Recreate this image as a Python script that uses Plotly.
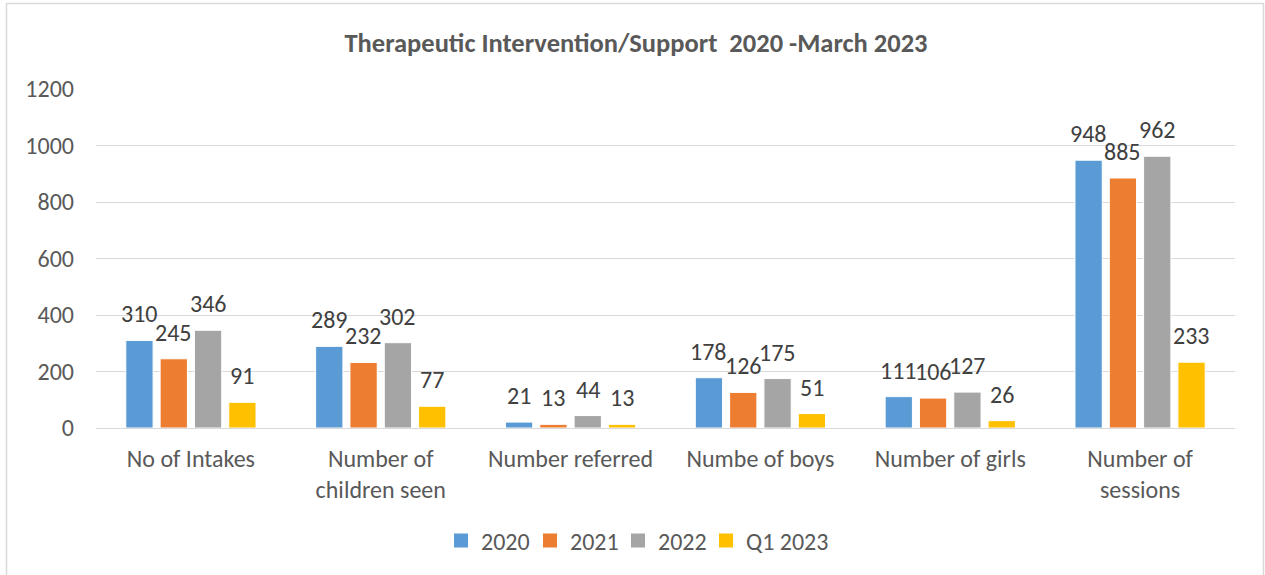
import plotly.graph_objects as go

categories = ["No of Intakes", "Number of<br>children seen", "Number referred",
              "Numbe of boys", "Number of girls", "Number of<br>sessions"]
series_names = ["2020", "2021", "2022", "Q1 2023"]
v2020 = [310, 289, 21, 178, 111, 948]
v2021 = [245, 232, 13, 126, 106, 885]
v2022 = [346, 302, 44, 175, 127, 962]
vq1_2023 = [91, 77, 13, 51, 26, 233]
colors = ["#5B9BD5", "#ED7D31", "#A5A5A5", "#FFC000"]
y_ticks = [0, 200, 400, 600, 800, 1000, 1200]

FONT = "Carlito, Calibri, Lato, sans-serif"
W, H = 1265, 575
ML, MR, MT, MB = 96, 30, 89, 147
PW = W - ML - MR
PH = H - MT - MB

BARGAP = 0.277
GROUPGAP = 0.205
slot_px = PW / len(categories) * (1 - BARGAP) / len(series_names)

# legend entry left edges (pixels) and vertical centre
legend_left_px = [441, 530, 618, 706]
legend_y_px = 541

fig = go.Figure()
all_vals = [v2020, v2021, v2022, vq1_2023]
for name, vals, col in zip(series_names, all_vals, colors):
    fig.add_trace(go.Bar(
        x=categories, y=vals, name=name, showlegend=False,
        marker=dict(color=col, line=dict(color="white", width=1)),
        hoverinfo="x+y+name",
    ))
# legend entries (square swatches), one legend box per entry
legend_ids = ["legend", "legend2", "legend3", "legend4"]
for name, col, lid in zip(series_names, colors, legend_ids):
    fig.add_trace(go.Scatter(
        x=[None], y=[None], mode="markers", name=name, legend=lid,
        marker=dict(symbol="square", size=14, color=col, line=dict(width=0)),
    ))

# data labels (outside end, Excel style)
annotations = []
for i, vals in enumerate(all_vals):
    shift = (i - (len(series_names) - 1) / 2) * slot_px
    for cat, v in zip(categories, vals):
        annotations.append(dict(
            x=cat, y=v, xref="x", yref="y", text=str(v), showarrow=False,
            xanchor="center", yanchor="bottom", xshift=shift, yshift=10,
            font=dict(family=FONT, size=24, color="#404040"),
        ))
# clipped heading above the chart frame (only its descender is visible)
annotations.append(dict(
    x=(862 - ML) / PW, y=(MT + PH - 6.5) / PH, xref="paper", yref="paper",
    text="<b>y</b>", showarrow=False, xanchor="center", yanchor="bottom",
    font=dict(family=FONT, size=28, color="#000000"),
))

legend_layouts = {}
for lid, left in zip(legend_ids, legend_left_px):
    legend_layouts[lid] = dict(
        orientation="h", x=(left - ML) / PW, xanchor="left",
        y=(MT + PH - legend_y_px) / PH, yanchor="middle",
        font=dict(family=FONT, size=24, color="#595959"),
        itemwidth=30, bgcolor="rgba(0,0,0,0)", borderwidth=0,
    )

fig.update_layout(
    width=W, height=H,
    margin=dict(l=ML, r=MR, t=MT, b=MB),
    paper_bgcolor="white", plot_bgcolor="white",
    barmode="group", bargap=BARGAP, bargroupgap=GROUPGAP,
    font=dict(family=FONT, color="#595959"),
    title=dict(text="<b>Therapeutic Intervention/Support  2020 -March 2023</b>",
               x=636 / W, xanchor="center", y=1 - 43 / H, yanchor="middle",
               font=dict(family=FONT, size=26.5, color="#595959")),
    xaxis=dict(showgrid=False, showline=True, linecolor="#D9D9D9", linewidth=1,
               tickfont=dict(family=FONT, size=24, color="#595959"), ticks="",
               ticklabelstandoff=9),
    yaxis=dict(range=[0, 1200], tickvals=y_ticks, showgrid=True, gridcolor="#D9D9D9",
               gridwidth=1, zeroline=False, showline=False, ticks="",
               tickfont=dict(family=FONT, size=24, color="#595959"), ticklabelstandoff=21),
    annotations=annotations,
    showlegend=True,
    **legend_layouts,
)

# chart frame border
fig.add_shape(type="rect", xref="paper", yref="paper",
              x0=(6.5 - ML) / PW, x1=(1263.5 - ML) / PW,
              y0=-0.6, y1=(MT + PH - 3.5) / PH,
              line=dict(color="#D9D9D9", width=1.5), fillcolor="rgba(0,0,0,0)", layer="below")

fig.write_html("out.html", config={"displayModeBar": False},
               post_script="document.body.style.margin='0';document.body.style.overflow='hidden';")
